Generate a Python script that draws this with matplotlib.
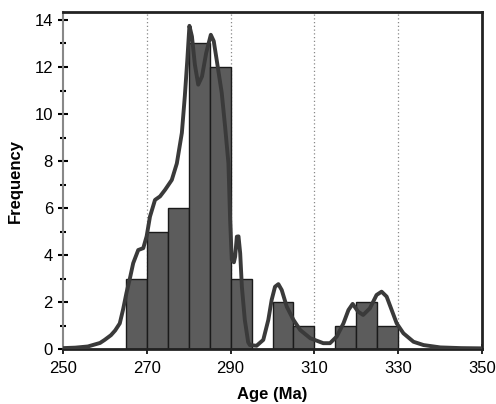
import numpy as np
import matplotlib
matplotlib.use("Agg")
import matplotlib.pyplot as plt

plt.rcParams['font.family'] = ['Liberation Sans', 'DejaVu Sans']

# histogram (5 Ma bins)
bin_left = [265, 270, 275, 280, 285, 290, 295, 300, 305, 310, 315, 320, 325]
counts = [3, 5, 6, 13, 12, 3, 0, 2, 1, 0, 1, 2, 1]
bin_width = 5

# probability density curve
curve_x = [250, 253, 256, 258.9, 260, 261.5, 262.5, 263.6, 264.4, 265.2, 266, 266.8, 268,
           269.2, 270, 270.8, 272, 273.2, 274.4, 276, 277.2, 278.4, 279.1, 279.7,
           280.2, 280.8, 281.5, 282.3, 283.2, 284.2, 285.3, 286.0, 286.7, 287.9,
           288.7, 289.5, 289.9, 290.3, 290.8, 291.1, 291.5, 291.9, 292.3, 292.7,
           293.4, 294.2, 294.6, 296.2, 297.8, 299, 299.8, 300.6, 301.4, 302.2,
           303.4, 305, 306.6, 309, 312.1, 313.7, 315.3, 316.9, 318.1, 319.1,
           320.4, 321.6, 323.2, 324.8, 326, 327.2, 328.4, 329.6, 331.2, 333.6,
           336, 340, 345, 350]
curve_y = [0.05, 0.07, 0.12, 0.27, 0.4, 0.6, 0.8, 1.1, 1.7, 2.4, 3.0, 3.66, 4.22,
           4.3, 4.8, 5.64, 6.35, 6.5, 6.78, 7.2, 7.9, 9.2, 10.75, 12.3,
           13.75, 13.3, 12.1, 11.25, 11.6, 12.6, 13.37, 13.1, 12.3, 10.9,
           9.47, 7.9, 5.5, 3.8, 3.7, 3.94, 4.79, 4.8, 4.08, 2.66,
           1.25, 0.3, 0.18, 0.15, 0.4, 1.25, 2.1, 2.66, 2.77, 2.52,
           1.81, 1.25, 0.82, 0.47, 0.26, 0.26, 0.54, 1.1, 1.67, 1.93,
           1.6, 1.46, 1.74, 2.31, 2.45, 2.24, 1.67, 1.1, 0.68, 0.32,
           0.18, 0.08, 0.05, 0.04]

fig = plt.figure(figsize=(4.96, 4.04), dpi=100)
ax = fig.add_axes([0.1264, 0.1354, 0.846, 0.835])

for gx in [270, 290, 310, 330]:
    ax.axvline(gx, color='#888888', linestyle=(0, (1, 2)), linewidth=0.9, zorder=0)

ax.bar(bin_left, counts, width=bin_width, align='edge', color='#5c5c5c',
       edgecolor='#1a1a1a', linewidth=1.0, zorder=2)
ax.plot(curve_x, curve_y, color='#3a3a3a', linewidth=2.8, zorder=3,
        solid_joinstyle='round', solid_capstyle='round')

ax.set_xlim(250, 350)
ax.set_ylim(0, 14.34)
ax.set_xticks([250, 270, 290, 310, 330, 350])
ax.set_yticks(range(0, 15, 2))
ax.set_yticks(range(1, 15, 2), minor=True)
ax.tick_params(axis='y', which='major', direction='inout', length=7, width=1.5, labelsize=12)
ax.tick_params(axis='y', which='minor', direction='inout', length=4, width=1.5)
ax.tick_params(axis='x', which='major', direction='inout', length=7, width=1.2,
               labelsize=12, pad=5)

for side in ['top', 'right', 'bottom']:
    ax.spines[side].set_linewidth(2.0)
    ax.spines[side].set_color('#222222')
ax.spines['left'].set_linewidth(1.5)
ax.spines['left'].set_color('#888888')

ax.set_xlabel('Age (Ma)', fontsize=12, fontweight='bold', labelpad=8)
ax.set_ylabel('Frequency', fontsize=12, fontweight='bold', labelpad=8)

fig.savefig('out.png', dpi=100)
